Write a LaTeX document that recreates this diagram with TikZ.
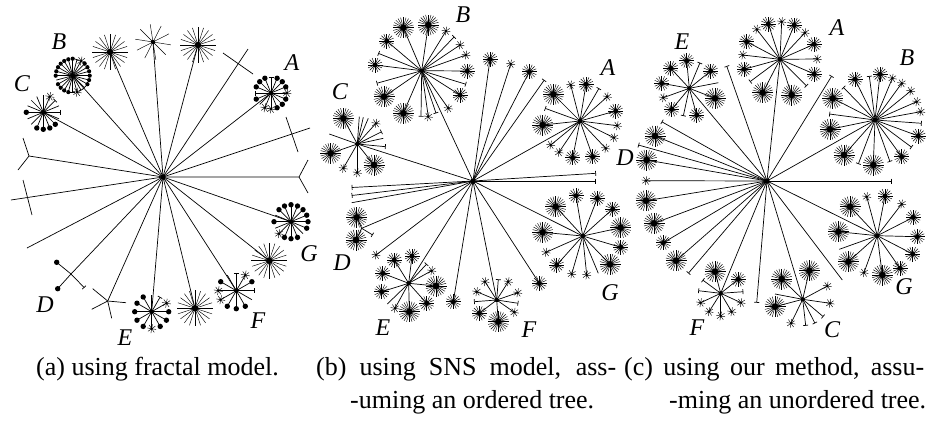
\documentclass[tikz,border=0pt]{standalone}
\usepackage{fontspec}
\setmainfont{Liberation Serif}
\usetikzlibrary{arrows.meta}

\tikzset{
  edge/.style={line width=0.7pt},
  spoke/.style={line width=0.45pt},
  % line ends
  lineb/.style={}, linem/.style={}, linek/.style={}, lineo/.style={}, linep/.style={}, linen/.style={},
  linet/.style={-{Bar[width=5pt,line width=0.7pt]}},
  % leaves
  leafa/.pic={\foreach \k in {1,...,20} \draw[spoke] (0,0) -- (\k*18:18); \fill (0,0) circle (3.2);},
  leafx/.pic={\foreach \k in {1,...,10} \draw[spoke] (0,0) -- (\k*36+9:18); \fill (0,0) circle (2.2);},
  leafb/.pic={\foreach \k in {1,...,24} \draw[spoke] (0,0) -- (\k*15:10.5); \fill (0,0) circle (3.2);},
  leafm/.pic={\foreach \k in {1,...,16} \draw[spoke] (0,0) -- (\k*22.5:7.5); \fill (0,0) circle (2.4);},
  leafk/.pic={\foreach \k in {1,...,8} \draw[spoke] (0,0) -- (\k*45+10:4.5); \fill (0,0) circle (1.3);},
  leafo/.pic={\fill (0,0) circle (2.7);},
  leafp/.pic={\fill (0,0) circle (2.1);},
  leaft/.pic={},
  leafn/.pic={},
  lbl/.style={font=\fontsize{24}{24}\selectfont\itshape},
  captxt/.style={anchor=base west, inner sep=0pt, font=\fontsize{26}{30}\selectfont},
}

% hub with leaves at given points
\newcommand{\hub}[3]{%
  \foreach \x/\y/\lf in {#3} {
    \draw[edge,line\lf] #1 -- (\x,\y);
    \pic at (\x,\y) {leaf\lf};
  }
  \fill #1 circle (#2);
}
% hub with leaves spread evenly round it
\newcommand{\ring}[5]{%
  \foreach \lf [count=\i] in {#5} {
    \draw[edge,line\lf] #1 -- ++({#3+(\i-1)*#4}:#2) coordinate (e);
    \pic at (e) {leaf\lf};
  }
  \fill #1 circle (2.2);
}

\begin{document}
\begin{tikzpicture}[x=1pt,y=-1pt]
  \useasboundingbox (0,0) rectangle (930,421);

  % panel (a): fractal model
  \coordinate (ca) at (163,177);
  \coordinate (aA) at (271,93);
  \coordinate (aB) at (72.7,75.7);
  \coordinate (aC) at (43.3,112.3);
  \coordinate (aD) at (71,274);
  \coordinate (aE) at (151.7,311.7);
  \coordinate (aF) at (236.3,290.7);
  \coordinate (aG) at (291,221.7);
  \coordinate (aX) at (107.7,301);
  \foreach \x/\y in {110/52, 198/45, 269.3/260.7, 195/308.3} {
      \draw[edge] (ca) -- (\x,\y);
      \pic at (\x,\y) {leafa};
    }
  \draw[edge] (ca) -- (153,42); \pic at (153,42) {leafx};
  \foreach \p in {aA,aB,aC,aD,aE,aF,aG,aX} \draw[edge] (ca) -- (\p);
  \draw[edge] (ca) -- (248,49); \draw[edge] (223,53) -- (253,74);
  \draw[edge] (ca) -- (310,128); \draw[edge] (286,117) -- (298,152);
  \draw[edge] (ca) -- (299,177) -- (308,160); \draw[edge] (299,177) -- (308,193);
  \draw[edge] (ca) -- (27,248);
  \draw[edge] (ca) -- (11,200); \draw[edge] (23,180) -- (32,215);
  \draw[edge] (ca) -- (29,156) -- (18,170); \draw[edge] (29,156) -- (23,138);
  \hub{(aD)}{0.1}{57.7/288.7/o, 56.7/262.3/o, 84.3/287.7/t}
  \hub{(aX)}{0.1}{92.7/288.7/n, 91.7/309.3/n, 111.7/318.3/n, 126/302.7/n}
  \ring{(aA)}{16}{-90}{22.5}{t,o,o,o,k,o,o,o,k,k,n,o,t,o,o,o}
  \ring{(aB)}{17}{-90}{15}{p,t,k,p,p,p,p,p,p,t,t,k,t,p,p,p,p,n,p,p,p,p,p,p}
  \ring{(aC)}{17}{0}{22.5}{t,n,o,o,o,o,n,n,o,n,n,n,n,k,t,n}
  \ring{(aE)}{17}{0}{30}{o,o,o,k,o,o,o,o,o,n,t,k}
  \ring{(aF)}{18}{-90}{30}{t,k,o,t,n,o,o,o,k,k,o,n}
  \ring{(aG)}{17}{-90}{22.5}{o,o,o,o,o,o,n,o,o,o,k,n,o,n,o,o}
  \fill (ca) circle (2.6);

  % panel (b): SNS model
  \coordinate (cb) at (473,181);
  \coordinate (bA) at (580,121);
  \coordinate (bB) at (421.7,70.7);
  \coordinate (bC) at (357.3,144);
  \coordinate (bD) at (361.7,228.3);
  \coordinate (bE) at (408.7,283.3);
  \coordinate (bF) at (496.7,300);
  \coordinate (bG) at (582.7,236);
  \foreach \p in {bA,bB,bC,bD,bE,bF,bG} \draw[edge] (cb) -- (\p);
  \hub{(cb)}{2.6}{490/59.3/m, 510.7/64/k, 529.3/71.7/m, 544.3/80/t, 596/173.3/t, 596/181/t,
    539.3/283.3/m, 453.3/301.7/m, 376/255/k, 351.7/187.5/t, 351.7/195.5/t, 351.7/202.7/n}
  \hub{(bB)}{2.2}{403.3/27.7/b, 428.3/25/b, 446/31/k, 454.3/36.7/t, 460/45/k, 466/55/k,
    467.3/71/m, 466/84.3/t, 460/95/m, 448.3/108.3/k, 421/116.7/t, 428.3/116.7/k, 436/113.3/t,
    403.3/113.3/b, 384/96.7/b, 376.7/83.3/t, 375/65/m, 378.3/53.3/t, 386.7/41/m}
  \hub{(bA)}{2.2}{553.3/94.3/b, 570.7/85/k, 586/84.3/m, 599/88.3/t, 607.3/96.7/k, 615.7/111/m,
    617.3/125.7/k, 614/137.7/k, 605.7/148.3/k, 592.7/156.7/m, 572.7/157.7/m, 559/152.3/k,
    550.7/145/k, 542.7/125/b, 545/108.3/t}
  \hub{(bG)}{2.2}{555.7/206.7/b, 576/195.7/m, 597.3/198.3/m, 612.7/209/m, 620.7/227.7/b,
    620.7/247.3/m, 610/264.3/b, 598.3/273.3/n, 586.7/275/k, 571.7/274/k, 556.7/265/m,
    546/252.3/k, 542.7/232.3/b}
  \hub{(bF)}{2.2}{498.3/279.3/t, 485/281.7/k, 508.3/281.7/k, 476.7/291.7/k, 474/301.7/t,
    479.3/313.3/m, 498.3/321.7/b, 514.3/312.3/k, 518.3/303.3/t, 517.7/292.7/k}
  \hub{(bE)}{2.2}{394.3/260/m, 412/256/m, 426.7/264/t, 431.7/270.7/k, 436/286/b, 426.7/303.3/m,
    409.3/311.7/b, 395/308.3/k, 387.3/304/n, 381.7/291.7/m, 382.7/273.3/m}
  \hub{(bD)}{0.1}{356.7/217.3/b, 356/240/b, 372.7/235/t}
  \hub{(bC)}{2.2}{343.3/118.3/b, 359.3/116.7/n, 363.3/117.3/n, 368.3/118.3/n, 376/123.3/k,
    381.7/131.7/t, 383.3/138.3/n, 385.7/146.7/t, 374/165/b, 357.3/172.7/k, 343.3/168.3/k,
    330.7/153.3/b, 329.3/134/n}

  % panel (c): our method
  \coordinate (cc) at (767,181);
  \coordinate (cA) at (780,59.3);
  \coordinate (cB) at (875,120);
  \coordinate (cC) at (802.7,299.3);
  \coordinate (cE) at (689.3,88.3);
  \coordinate (cF) at (720.7,293.3);
  \coordinate (cG) at (877.3,235.7);
  \foreach \p in {cA,cB,cC,cE,cF,cG} \draw[edge] (cc) -- (\p);
  \hub{(cc)}{2.6}{726.7/66/t, 831.7/76/t, 891.7/181/t, 756.7/302.7/t, 688.3/273.3/t,
    661.7/121.7/t, 638.3/145/t, 842.3/280/n, 646/180.7/k, 646/200.7/b, 654/223.3/b,
    663.3/242.7/m, 676/260.7/b, 655/136/b, 646.7/160/b}
  \hub{(cA)}{2.2}{756.7/29.3/k, 768.3/24/m, 781.7/21.7/k, 794.3/25/m, 805/32.7/k, 814/44.3/m,
    817.3/59/k, 814.3/74/m, 806.7/86/t, 791.7/95/b, 762.7/92.7/b, 750/81.7/t, 744/69.3/m,
    742.7/55/k, 746.7/41.7/m}
  \hub{(cE)}{2.2}{670.7/68.3/m, 686.7/60.7/m, 700/62.7/t, 710.7/71/m, 718.3/82.7/n, 715/98.3/b,
    696.7/115/m, 683.3/116/t, 671.7/109.3/m, 663.3/97.7/k, 661.7/83.3/m}
  \hub{(cB)}{2.2}{855/79.3/m, 869.3/76/t, 880/74.3/m, 892.3/78.3/k, 901.7/83.3/k, 910.7/91/k,
    916.7/101.7/k, 920.7/111.7/k, 921.7/123.3/t, 918.3/136/m, 911.7/147.3/t, 901.7/156.7/m,
    890/161.7/t, 873.3/165/b, 858.3/164/t, 844/155/b, 830/129.3/b, 829.3/114/t, 832.7/98.3/b,
    843.3/87.3/t}
  \hub{(cG)}{2.2}{850/206.7/b, 866.7/196.7/k, 885/196/m, 901.7/204/k, 913.3/217.3/m,
    917.3/236.7/m, 912.7/254/m, 900/268.3/m, 882.3/275/b, 864/272.7/k, 848.3/261.7/b,
    839.3/249.3/n, 838.3/231.7/b}
  \hub{(cC)}{2.2}{781.7/279/b, 809.3/270.7/b, 827.3/286/k, 830/303.3/k, 823.3/316.7/t,
    815/323.3/t, 805.7/325.7/t, 791/323.3/k, 775/306.7/b, 775/294/n}
  \hub{(cF)}{2.2}{715/271.7/b, 738.3/279.3/m, 743.3/291.7/t, 741/302.7/k, 731.7/311.7/k,
    720.7/316/k, 709/311.7/k, 700.7/302.7/k, 698.3/290.7/t, 702.7/280/t}

  % subtree labels
  \foreach \x/\y/\s in {292/63/A, 59/42/B, 22/84/C, 45/305/D, 125/338/E, 258/321/F, 309/254/G,
      608/68/A, 463/15/B, 340/92/C, 342/263/D, 383/328/E, 529/330/F, 610/293/G,
      837/28/A, 907/58/B, 832/330/C, 625/158/D, 682/42/E, 697/328/F, 904/287/G} {
      \node[lbl] (l\s\x) at (\x,\y) {\s};
    }

  % captions
  \node[captxt] (capa) at (36,375) {(a) using fractal model.};
  \node[captxt] (capb) at (316,375) {\makebox[300pt][s]{(b) using SNS model, ass-}};
  \node[captxt] (capb2) at (350,408) {-uming an ordered tree.};
  \node[captxt] (capc) at (624,375) {\makebox[300pt][s]{(c) using our method, assu-}};
  \node[captxt] (capc2) at (669,408) {-ming an unordered tree.};
\end{tikzpicture}
\end{document}
